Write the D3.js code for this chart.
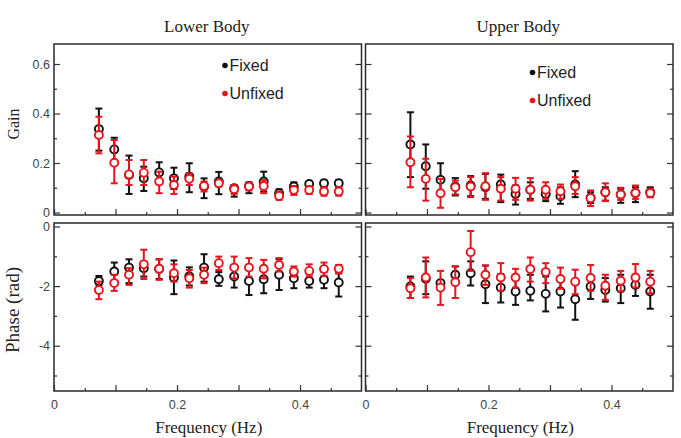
<!DOCTYPE html>
<html>
<head>
<meta charset="utf-8">
<script src="https://cdn.jsdelivr.net/npm/d3@7"></script>
<style>
  body { margin: 0; background: #fff; }
  .tick text { font-family: "Liberation Sans", Arial, sans-serif; font-size: 12.5px; fill: #444; }
  .tick line { stroke: #333; }
  .domain { display: none; }
</style>
</head>
<body>
<div id="chart"></div>
<script>
// frequencies (Hz) of the stimulus components
const freqHz = [0.073, 0.098, 0.122, 0.146, 0.171, 0.195, 0.220, 0.244, 0.268, 0.293, 0.317, 0.341, 0.366, 0.390, 0.415, 0.439, 0.463];

// Lower body gain
const lowerGainFixed   = [0.337, 0.255, 0.152, 0.138, 0.162, 0.138, 0.145, 0.105, 0.125, 0.098, 0.107, 0.125, 0.078, 0.105, 0.115, 0.118, 0.118];
const lowerGainFixedHi = [0.42, 0.302, 0.23, 0.185, 0.203, 0.181, 0.199, 0.138, 0.164, 0.111, 0.121, 0.165, 0.094, 0.122, 0.125, 0.129, 0.131];
const lowerGainFixedLo = [0.25, 0.208, 0.075, 0.087, 0.125, 0.095, 0.082, 0.058, 0.074, 0.064, 0.078, 0.085, 0.058, 0.081, 0.091, 0.102, 0.102];
const lowerGainUnfixed   = [0.313, 0.201, 0.154, 0.161, 0.125, 0.111, 0.136, 0.107, 0.118, 0.094, 0.105, 0.107, 0.067, 0.091, 0.091, 0.085, 0.085];
const lowerGainUnfixedHi = [0.387, 0.293, 0.212, 0.212, 0.165, 0.145, 0.158, 0.125, 0.131, 0.111, 0.121, 0.131, 0.085, 0.107, 0.105, 0.102, 0.102];
const lowerGainUnfixedLo = [0.239, 0.118, 0.111, 0.111, 0.078, 0.075, 0.111, 0.085, 0.105, 0.075, 0.089, 0.078, 0.051, 0.071, 0.075, 0.068, 0.068];

// Upper body gain
const upperGainFixed   = [0.275, 0.187, 0.132, 0.105, 0.109, 0.102, 0.113, 0.075, 0.092, 0.075, 0.066, 0.113, 0.06, 0.082, 0.073, 0.079, 0.082];
const upperGainFixedHi = [0.405, 0.275, 0.199, 0.139, 0.147, 0.156, 0.153, 0.109, 0.122, 0.1, 0.102, 0.167, 0.082, 0.102, 0.096, 0.102, 0.102];
const upperGainFixedLo = [0.143, 0.096, 0.07, 0.069, 0.066, 0.055, 0.042, 0.032, 0.055, 0.046, 0.035, 0.062, 0.038, 0.048, 0.039, 0.042, 0.062];
const upperGainUnfixed   = [0.203, 0.136, 0.078, 0.102, 0.105, 0.106, 0.096, 0.096, 0.092, 0.092, 0.086, 0.106, 0.058, 0.082, 0.073, 0.079, 0.079];
const upperGainUnfixedHi = [0.307, 0.217, 0.136, 0.129, 0.143, 0.159, 0.143, 0.14, 0.139, 0.122, 0.113, 0.143, 0.089, 0.118, 0.1, 0.109, 0.096];
const upperGainUnfixedLo = [0.102, 0.048, 0.019, 0.073, 0.062, 0.051, 0.048, 0.051, 0.048, 0.055, 0.055, 0.075, 0.026, 0.046, 0.051, 0.055, 0.062];

// Lower body phase (rad)
const lowerPhaseFixed   = [-1.83, -1.51, -1.38, -1.40, -1.43, -1.71, -1.67, -1.38, -1.77, -1.68, -1.83, -1.77, -1.62, -1.74, -1.83, -1.79, -1.88];
const lowerPhaseFixedHi = [-1.66, -1.21, -1.10, -1.18, -1.10, -1.14, -1.37, -0.93, -1.53, -1.29, -1.46, -1.40, -1.10, -1.43, -1.60, -1.53, -1.57];
const lowerPhaseFixedLo = [-1.96, -1.85, -1.90, -1.68, -1.76, -2.27, -1.98, -1.85, -1.99, -2.05, -2.30, -2.24, -2.13, -2.07, -2.05, -2.07, -2.35];
const lowerPhaseUnfixed   = [-2.13, -1.90, -1.62, -1.27, -1.42, -1.57, -1.74, -1.62, -1.23, -1.38, -1.38, -1.42, -1.29, -1.51, -1.49, -1.43, -1.42];
const lowerPhaseUnfixedHi = [-1.85, -1.62, -1.40, -0.78, -1.10, -1.27, -1.46, -1.38, -1.01, -1.01, -1.06, -1.12, -1.06, -1.34, -1.27, -1.21, -1.29];
const lowerPhaseUnfixedLo = [-2.44, -2.16, -1.96, -1.76, -1.79, -1.85, -2.05, -1.90, -1.46, -1.74, -1.68, -1.74, -1.51, -1.68, -1.68, -1.65, -1.57];

// Upper body phase (rad)
const upperPhaseFixed   = [-2.01, -1.75, -1.90, -1.62, -1.57, -1.94, -2.05, -2.18, -2.16, -2.26, -2.18, -2.44, -2.01, -2.13, -2.07, -1.96, -2.18];
const upperPhaseFixedHi = [-1.68, -1.17, -1.82, -1.34, -1.17, -1.31, -1.60, -1.79, -1.62, -1.68, -1.79, -1.79, -1.68, -1.73, -1.62, -1.62, -1.62];
const upperPhaseFixedLo = [-2.40, -2.27, -2.00, -1.90, -1.98, -2.57, -2.55, -2.63, -2.48, -2.85, -2.72, -3.13, -2.43, -2.52, -2.57, -2.33, -2.76];
const upperPhaseUnfixed   = [-2.07, -1.71, -2.05, -1.87, -0.86, -1.62, -1.71, -1.71, -1.43, -1.53, -1.76, -1.85, -1.73, -1.99, -1.82, -1.71, -1.85];
const upperPhaseUnfixedHi = [-1.73, -1.04, -1.49, -1.34, -0.15, -1.31, -1.23, -1.42, -1.04, -1.23, -1.38, -1.45, -1.29, -1.62, -1.49, -1.26, -1.49];
const upperPhaseUnfixedLo = [-2.40, -2.38, -2.63, -2.40, -1.49, -1.96, -2.16, -2.05, -1.85, -1.90, -2.09, -2.27, -2.16, -2.46, -2.18, -2.05, -2.24];

const seriesNames = ["Fixed", "Unfixed"];
const seriesColors = {Fixed: "#111111", Unfixed: "#e8141c"};
const columnTitles = ["Lower Body", "Upper Body"];

const width = 681, height = 438;

const svg = d3.select("#chart").append("svg")
    .attr("width", width)
    .attr("height", height);

// layout
const cols = [[54, 361.5], [365.5, 673]];
const gainBox = {top: 44, bottom: 215};
const phaseBox = {top: 223, bottom: 391};

const yGain = d3.scaleLinear().domain([0, 0.6]).range([212.5, 64]);
const yPhase = d3.scaleLinear().domain([0, -4]).range([226.5, 345.7]);

function makeRows(mean, lo, hi) {
    return freqHz.map((f, i) => ({f: f, v: mean[i], lo: lo[i], hi: hi[i]}));
}

const panels = [
    {col: 0, row: "gain", series: {
        Fixed: makeRows(lowerGainFixed, lowerGainFixedLo, lowerGainFixedHi),
        Unfixed: makeRows(lowerGainUnfixed, lowerGainUnfixedLo, lowerGainUnfixedHi)},
        legend: {x: 225, y: 65.5}},
    {col: 1, row: "gain", series: {
        Fixed: makeRows(upperGainFixed, upperGainFixedLo, upperGainFixedHi),
        Unfixed: makeRows(upperGainUnfixed, upperGainUnfixedLo, upperGainUnfixedHi)},
        legend: {x: 532.5, y: 72.5}},
    {col: 0, row: "phase", series: {
        Fixed: makeRows(lowerPhaseFixed, lowerPhaseFixedLo, lowerPhaseFixedHi),
        Unfixed: makeRows(lowerPhaseUnfixed, lowerPhaseUnfixedLo, lowerPhaseUnfixedHi)}},
    {col: 1, row: "phase", series: {
        Fixed: makeRows(upperPhaseFixed, upperPhaseFixedLo, upperPhaseFixedHi),
        Unfixed: makeRows(upperPhaseUnfixed, upperPhaseUnfixedLo, upperPhaseUnfixedHi)}}
];

panels.forEach(p => {
    let x = d3.scaleLinear().domain([0, 0.5]).range(cols[p.col]);
    let y = p.row === "gain" ? yGain : yPhase;
    let box = p.row === "gain" ? gainBox : phaseBox;
    let g = svg.append("g");

    // y ticks, left side (inward)
    let yMajor = p.row === "gain" ? [0, 0.2, 0.4, 0.6] : [0, -2, -4];
    let yMinor = p.row === "gain" ? [0.1, 0.3, 0.5] : [-1, -3, -5];
    let yFmt = p.row === "gain" ? (d => d === 0 ? "0" : d3.format(".1f")(d)) : (d => d === 0 ? "0" : "-" + Math.abs(d));

    g.append("g")
        .attr("transform", `translate(${x.range()[0]},0)`)
        .call(d3.axisLeft(y).tickValues(yMajor).tickSize(-6).tickPadding(4)
            .tickFormat(p.col === 0 ? yFmt : ""));
    g.append("g")
        .attr("transform", `translate(${x.range()[0]},0)`)
        .call(d3.axisLeft(y).tickValues(yMinor).tickSize(-3).tickFormat(""));
    // y ticks, right side
    g.append("g")
        .attr("transform", `translate(${x.range()[1]},0)`)
        .call(d3.axisRight(y).tickValues(yMajor).tickSize(-6).tickFormat(""));
    g.append("g")
        .attr("transform", `translate(${x.range()[1]},0)`)
        .call(d3.axisRight(y).tickValues(yMinor).tickSize(-3).tickFormat(""));

    // x ticks at bottom of each panel
    g.append("g")
        .attr("transform", `translate(0,${box.bottom})`)
        .call(d3.axisBottom(x).tickValues([0, 0.1, 0.2, 0.3, 0.4]).tickSize(-6).tickPadding(9)
            .tickFormat(p.row === "phase" ? (d => [0, 0.2, 0.4].includes(d) ? (d === 0 ? "0" : d3.format(".1f")(d)) : "") : ""));
    g.append("g")
        .attr("transform", `translate(0,${box.bottom})`)
        .call(d3.axisBottom(x).tickValues([0.05, 0.15, 0.25, 0.35, 0.45]).tickSize(-3).tickFormat(""));

    g.selectAll(".tick line").attr("stroke-width", 1.2);

    // frame
    g.append("rect")
        .attr("x", x.range()[0])
        .attr("y", box.top)
        .attr("width", x.range()[1] - x.range()[0])
        .attr("height", box.bottom - box.top)
        .attr("fill", "none")
        .attr("stroke", "#2a2a2a")
        .attr("stroke-width", 1.5);

    // error bars + open circles, fixed first, unfixed on top
    seriesNames.forEach(name => {
        let rows = p.series[name];
        let col = seriesColors[name];
        let sg = g.append("g");
        let bars = sg.selectAll(".err").data(rows).enter().append("g").attr("class", "err")
            .attr("stroke", col).attr("stroke-width", 2);
        bars.append("line")
            .attr("x1", d => x(d.f)).attr("x2", d => x(d.f))
            .attr("y1", d => y(d.lo)).attr("y2", d => y(d.hi));
        bars.append("line")
            .attr("x1", d => x(d.f) - 3.5).attr("x2", d => x(d.f) + 3.5)
            .attr("y1", d => y(d.hi)).attr("y2", d => y(d.hi));
        bars.append("line")
            .attr("x1", d => x(d.f) - 3.5).attr("x2", d => x(d.f) + 3.5)
            .attr("y1", d => y(d.lo)).attr("y2", d => y(d.lo));
        sg.selectAll(".pt").data(rows).enter().append("circle").attr("class", "pt")
            .attr("cx", d => x(d.f))
            .attr("cy", d => y(d.v))
            .attr("r", 4)
            .attr("fill", "#fff")
            .attr("stroke", col)
            .attr("stroke-width", 1.9);
    });

    // legend
    if (p.legend) {
        seriesNames.forEach((name, i) => {
            let ly = p.legend.y + i * 28;
            g.append("circle")
                .attr("cx", p.legend.x).attr("cy", ly).attr("r", 2.8)
                .attr("fill", seriesColors[name]);
            g.append("text")
                .attr("x", p.legend.x + 4.5).attr("y", ly + 5.5)
                .attr("font-family", "'Liberation Sans', Arial, sans-serif")
                .attr("font-size", 16)
                .attr("fill", "#222")
                .text(name);
        });
    }
});

// column titles and x labels
columnTitles.forEach((t, i) => {
    let cx = (cols[i][0] + cols[i][1]) / 2 - 1;
    svg.append("text")
        .attr("x", cx).attr("y", 32)
        .attr("text-anchor", "middle")
        .attr("font-family", "'Liberation Serif', 'Times New Roman', serif")
        .attr("font-size", 17)
        .attr("fill", "#222")
        .text(t);
    svg.append("text")
        .attr("x", cx + 2).attr("y", 433)
        .attr("text-anchor", "middle")
        .attr("font-family", "'Liberation Serif', 'Times New Roman', serif")
        .attr("font-size", 17)
        .attr("fill", "#222")
        .text("Frequency (Hz)");
});

// y labels
svg.append("text")
    .attr("transform", "translate(19,124) rotate(-90)")
    .attr("text-anchor", "middle")
    .attr("font-family", "'Liberation Serif', 'Times New Roman', serif")
    .attr("font-size", 16)
    .attr("fill", "#222")
    .text("Gain");
svg.append("text")
    .attr("transform", "translate(19,310) rotate(-90)")
    .attr("text-anchor", "middle")
    .attr("font-family", "'Liberation Serif', 'Times New Roman', serif")
    .attr("font-size", 19)
    .attr("fill", "#222")
    .text("Phase (rad)");
</script>
</body>
</html>
